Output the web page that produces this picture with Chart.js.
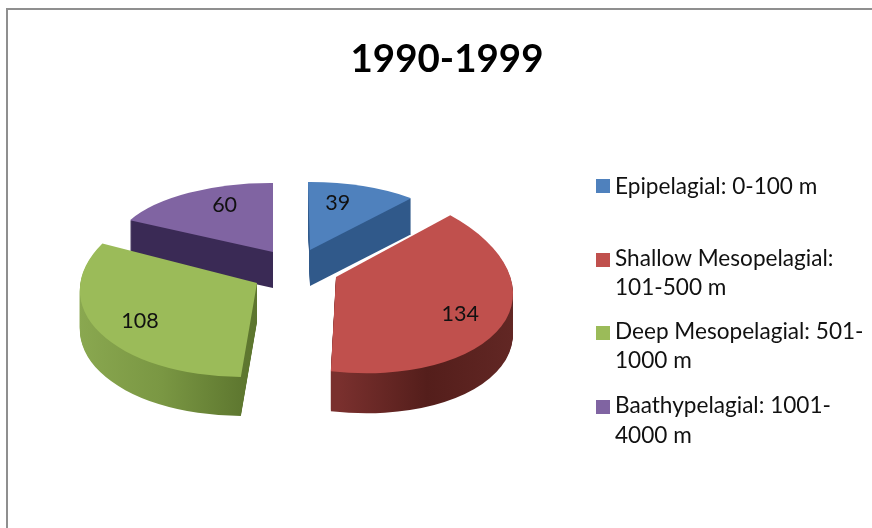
<!DOCTYPE html>
<html><head><meta charset="utf-8">
<script src="https://cdn.jsdelivr.net/npm/chart.js@4"></script>
<style>html,body{margin:0;padding:0;background:#fff}#w{position:absolute;left:0;top:0;width:872px;height:528px}</style>
</head><body><div id="w"><canvas id="c" width="872" height="528"></canvas></div>
<script>
const titleText = '1990-1999';
const categories = ['Epipelagial: 0-100 m','Shallow Mesopelagial: 101-500 m','Deep Mesopelagial: 501-1000 m','Baathypelagial: 1001-4000 m'];
const values = [39,134,108,60];
const legendLines = [['Epipelagial: 0-100 m'],['Shallow Mesopelagial:','101-500 m'],['Deep Mesopelagial: 501-','1000 m'],['Baathypelagial: 1001-','4000 m']];
const topColors = ['#4f81bd','#c0504d','#9bbb59','#8064a2'];

// Presentation only: perspective view of each slice, drawn from the library's arc elements.
const view = [
  {o:[310,250],a:[156,-1],b:[2,68],depth:36,stops:[[0,'#30598a'],[1,'#30598a']],label:[-4,-9]},
  {o:[336,277],a:[177,15],b:[3,95],depth:40,stops:[[0.5,'#7a302e'],[0.75,'#541e1b'],[1,'#622724']],label:[25,7]},
  {o:[257,283],a:[177,-3],b:[-8,94],depth:39,stops:[[0,'#8aa850'],[0.25,'#7a9743'],[0.5,'#5c752e']],label:[-23,8]},
  {o:[273,252],a:[160,1],b:[0,69],depth:36,stops:[[0,'#3a2a55'],[1,'#3a2a55']],label:[2,-11]}
];
const drawOrder = [3,0,2,1];
const legendStyle = {box:14,boxX:596,textX:615,font:'22.6px Lato',color:'#111',
  rows:[[187],[259,288],[332,361],[406,436]],boxY:[186,260,333,407]};

function place(ctx,arc,v,dy){
  const R = arc.outerRadius;
  ctx.translate(v.o[0],v.o[1]+dy);
  ctx.transform(v.a[0]/R,v.a[1]/R,v.b[0]/R,v.b[1]/R,0,0);
  ctx.translate(-arc.x,-arc.y);
}
const pie3d = {
  id:'pie3d',
  beforeDraw(chart){
    const ctx = chart.ctx;
    ctx.save();
    ctx.strokeStyle = '#8f8f8f'; ctx.lineWidth = 2;
    ctx.beginPath(); ctx.moveTo(7,528); ctx.lineTo(7,9); ctx.lineTo(872,9); ctx.stroke();
    ctx.restore();
  },
  beforeDatasetDraw(chart,args){
    const ctx = chart.ctx, els = args.meta.data;
    drawOrder.forEach(i=>{
      const arc = els[i], v = view[i], orig = arc.options, R = arc.outerRadius;
      const g = ctx.createLinearGradient(arc.x-R,0,arc.x+R,0);
      v.stops.forEach(s=>g.addColorStop(s[0],s[1]));
      for(let d=v.depth; d>=1; d--){
        ctx.save(); place(ctx,arc,v,d);
        arc.options = Object.create(orig);
        arc.options.backgroundColor = g;
        arc.draw(ctx);
        arc.options = orig;
        ctx.restore();
      }
      ctx.save(); place(ctx,arc,v,0); arc.draw(ctx); ctx.restore();
    });
    return false;
  },
  afterDatasetsDraw(chart){
    const ctx = chart.ctx, els = chart.getDatasetMeta(0).data;
    ctx.save();
    ctx.fillStyle='#111'; ctx.font='21.5px Lato'; ctx.textAlign='center'; ctx.textBaseline='middle';
    els.forEach((arc,i)=>{
      const v=view[i], m=(arc.startAngle+arc.endAngle)/2, ux=Math.cos(m), uy=Math.sin(m), f=0.6;
      ctx.fillText(String(values[i]),
        v.o[0]+f*(v.a[0]*ux+v.b[0]*uy)+v.label[0],
        v.o[1]+f*(v.a[1]*ux+v.b[1]*uy)+v.label[1]);
    });
    const L=legendStyle;
    ctx.textAlign='left'; ctx.font=L.font; ctx.fillStyle=L.color;
    legendLines.forEach((lines,i)=>{
      ctx.fillStyle=topColors[i];
      ctx.fillRect(L.boxX,L.boxY[i]-L.box/2,L.box,L.box);
      ctx.fillStyle=L.color;
      lines.forEach((t,j)=>ctx.fillText(t,L.textX,L.rows[i][j]));
    });
    ctx.restore();
  }
};
new Chart(document.getElementById('c'),{
  type:'pie',
  data:{labels:categories,datasets:[{data:values,backgroundColor:topColors,borderWidth:0}]},
  options:{
    responsive:false,animation:false,
    layout:{padding:{left:22,top:0}},
    plugins:{
      legend:{display:false},tooltip:{enabled:false},
      title:{display:true,text:titleText,color:'#000',font:{family:'Lato',size:38.5,weight:'bold'},padding:{top:36,bottom:10}}
    }
  },
  plugins:[pie3d]
});
</script></body></html>
